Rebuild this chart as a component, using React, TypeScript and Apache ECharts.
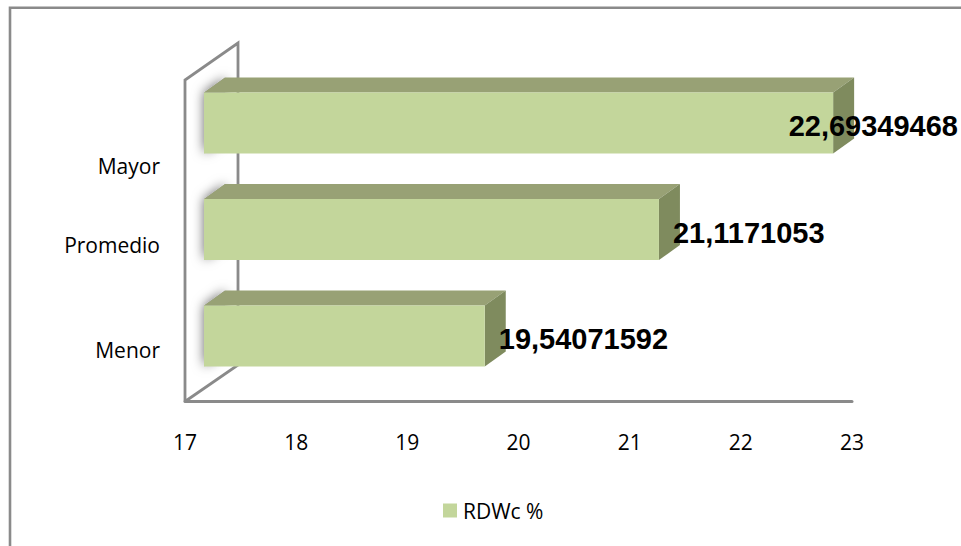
import React, { useEffect, useRef } from "react";
import * as echarts from "echarts";

// Categories (bottom to top) and series values
const categories = ["Menor", "Promedio", "Mayor"];
const rdwValues = [19.54071592, 21.1171053, 22.69349468];
const seriesName = "RDWc %";

// Value axis range and ticks
const axisMin = 17;
const axisMax = 23;
const axisInterval = 1;

// Vertical nudges for the category labels (in px)
const labelShift: Record<string, number> = { Menor: 14, Promedio: 15.5, Mayor: 43 };

const FRONT = "#C3D69B";
const TOP = "#98A175";
const SIDE = "#7F8B5E";
const WALL = "#8A8A8A";

const labelFont = "'Open Sans', 'Noto Sans', sans-serif";

function renderBar(params: any, api: any) {
  const v = api.value(0);
  const c = api.value(1);
  const start = api.coord([axisMin, c]);
  const end = api.coord([v, c]);
  const band = api.size([0, 1])[1];
  const h = band * 0.575;
  const dx = 21;
  const dy = -15;
  const x0 = start[0];
  const x1 = end[0];
  const yc = end[1];
  const yt = yc - h / 2;
  const yb = yc + h / 2;

  const text = String(v).replace(".", ",");
  const fontSize = 29;
  const estWidth = text.length * fontSize * 0.56;
  let lx = x1 + 14;
  let align = "left";
  if (lx + estWidth > api.getWidth()) {
    lx = api.getWidth() - 3;
    align = "right";
  }

  return {
    type: "group",
    children: [
      {
        // soft shadow cast on the side wall
        type: "polygon",
        shape: { points: [[x0, yt], [x0 + dx, yt + dy], [x0 + dx, yb + dy], [x0, yb]] },
        style: { fill: "#a0a0a0", shadowBlur: 12, shadowColor: "rgba(0,0,0,0.6)" },
      },
      {
        type: "polygon",
        shape: { points: [[x0, yt], [x0 + dx, yt + dy], [x1 + dx, yt + dy], [x1, yt]] },
        style: { fill: TOP },
      },
      {
        type: "polygon",
        shape: { points: [[x1, yt], [x1 + dx, yt + dy], [x1 + dx, yb + dy], [x1, yb]] },
        style: { fill: SIDE },
      },
      {
        type: "rect",
        shape: { x: x0, y: yt, width: x1 - x0, height: h },
        style: { fill: FRONT },
      },
      {
        type: "text",
        x: lx,
        y: yc + 3,
        style: {
          text,
          fill: "#000",
          font: `bold ${fontSize}px 'Liberation Sans', Arial, sans-serif`,
          align,
          verticalAlign: "middle",
        },
      },
    ],
  };
}

export default function App() {
  const ref = useRef<HTMLDivElement>(null);

  useEffect(() => {
    if (!ref.current) return;
    const chart = echarts.init(ref.current, null, { renderer: "svg" });

    const rich: Record<string, any> = {};
    categories.forEach((name) => {
      rich[name] = {
        fontFamily: labelFont,
        fontSize: 21,
        color: "#000",
        padding: [labelShift[name] * 2, 0, 0, 0],
      };
    });

    chart.setOption({
      animation: false,
      backgroundColor: "#fff",
      legend: {
        data: [seriesName],
        left: 443,
        top: 500,
        padding: 0,
        icon: "rect",
        itemWidth: 14,
        itemHeight: 14,
        itemGap: 6,
        textStyle: { fontFamily: labelFont, fontSize: 21, color: "#000", padding: [0, 0, 0, 1] },
      },
      grid: [
        { left: 204, right: 961 - 867, top: 69.75, bottom: 546 - 389.25 },
        { left: 185, right: 961 - 852, top: 80, bottom: 546 - 401.5 },
      ],
      xAxis: [
        { type: "value", gridIndex: 0, min: axisMin, max: axisMax, interval: axisInterval, show: false },
        {
          type: "value",
          gridIndex: 1,
          min: axisMin,
          max: axisMax,
          interval: axisInterval,
          axisLine: { show: true, lineStyle: { color: WALL, width: 3 } },
          axisTick: { show: false },
          splitLine: { show: false },
          axisLabel: {
            margin: 30,
            fontFamily: labelFont,
            fontSize: 21,
            lineHeight: 21,
            color: "#000",
          },
        },
      ],
      yAxis: [
        {
          type: "category",
          gridIndex: 0,
          data: categories,
          axisLine: { show: false },
          axisTick: { show: false },
          splitLine: { show: false },
          axisLabel: {
            margin: 44,
            formatter: (val: string) => `{${val}|${val}}`,
            rich,
          },
        },
        { type: "value", gridIndex: 1, show: false },
      ],
      graphic: [
        {
          type: "rect",
          z: 0,
          shape: { x: 10, y: 7.7, width: 1100, height: 700 },
          style: { fill: "none", stroke: WALL, lineWidth: 2.6 },
        },
        {
          type: "polyline",
          z: 0,
          shape: { points: [[185, 401.5], [185, 80], [238, 43], [238, 365], [185, 401.5]] },
          style: { fill: "none", stroke: WALL, lineWidth: 2.8 },
        },
      ],
      series: [
        {
          name: seriesName,
          type: "custom",
          xAxisIndex: 0,
          yAxisIndex: 0,
          z: 5,
          itemStyle: { color: FRONT },
          encode: { x: 0, y: 1 },
          data: rdwValues.map((v, i) => [v, i]),
          renderItem: renderBar,
        },
      ],
    });

    return () => chart.dispose();
  }, []);

  return (
    <div
      ref={ref}
      style={{ position: "absolute", left: 0, top: 0, width: 961, height: 546 }}
    />
  );
}
